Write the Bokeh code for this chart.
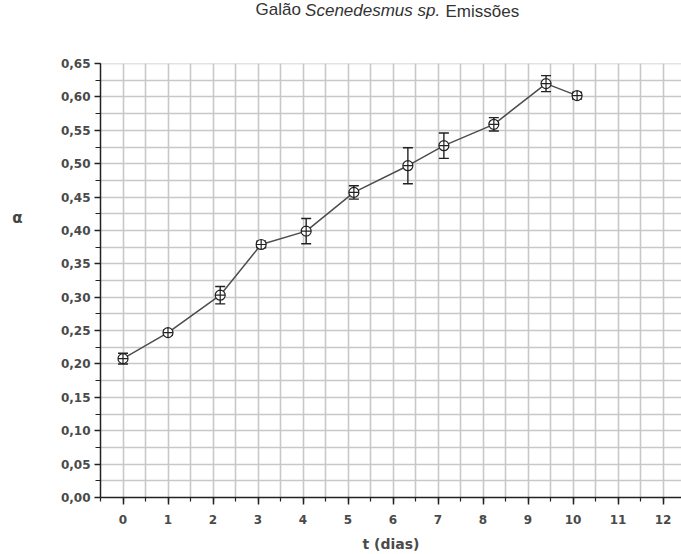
from bokeh.plotting import figure
from bokeh.models import (Range1d, SingleIntervalTicker, CustomJSTickFormatter,
                          Whisker, TeeHead, ColumnDataSource, Label)
from bokeh.embed import file_html
from bokeh.resources import INLINE

# ---- data ----
t_dias = [0.0, 1.0, 2.16, 3.07, 4.07, 5.13, 6.33, 7.13, 8.24, 9.40, 10.09]
alpha = [0.208, 0.247, 0.303, 0.379, 0.399, 0.457, 0.497, 0.527, 0.559, 0.620, 0.602]
alpha_err = [0.008, 0.004, 0.013, 0.005, 0.019, 0.010, 0.027, 0.019, 0.010, 0.012, 0.005]

title_parts = ["Galão", "Scenedesmus sp.", "Emissões"]
x_label = "t (dias)"
y_label = "α"

src = ColumnDataSource(dict(
    t=t_dias, a=alpha,
    lo=[a - e for a, e in zip(alpha, alpha_err)],
    hi=[a + e for a, e in zip(alpha, alpha_err)],
))

p = figure(width=681, height=554, output_backend="svg", toolbar_location=None,
           x_range=Range1d(-0.5, 12.41), y_range=Range1d(0, 0.6501),
           min_border_left=100, min_border_right=0, min_border_top=63,
           min_border_bottom=57, background_fill_color="white",
           border_fill_color="white")
p.outline_line_color = None

xt = SingleIntervalTicker(interval=1, num_minor_ticks=2)
yt = SingleIntervalTicker(interval=0.05, num_minor_ticks=2)
p.xaxis.ticker = xt
p.yaxis.ticker = yt
p.xgrid.ticker = xt
p.ygrid.ticker = yt

for g in (p.xgrid, p.ygrid):
    g.grid_line_color = None
    g.minor_grid_line_color = "#c8c8c8"
    g.minor_grid_line_width = 1.6

p.yaxis.formatter = CustomJSTickFormatter(code="return tick.toFixed(2).replace('.', ',')")

for ax in (p.xaxis, p.yaxis):
    ax.axis_line_color = "#222222"
    ax.axis_line_width = 1.5
    ax.major_tick_line_color = "#222222"
    ax.minor_tick_line_color = "#222222"
    ax.major_tick_line_width = 1.5
    ax.minor_tick_line_width = 1.2
    ax.major_tick_in = 0
    ax.minor_tick_in = 0
    ax.major_label_text_font = "DejaVu Sans"
    ax.major_label_text_font_size = "12px"
    ax.major_label_text_font_style = "bold"
    ax.major_label_text_color = "#4a4a4a"

p.xaxis.major_tick_out = 7
p.xaxis.minor_tick_out = 4
p.xaxis.major_label_standoff = 10
p.xaxis.axis_label = x_label
p.xaxis.axis_label_text_font = "DejaVu Sans"
p.xaxis.axis_label_text_font_size = "14px"
p.xaxis.axis_label_text_font_style = "bold"
p.xaxis.axis_label_text_color = "#4a4a4a"
p.xaxis.axis_label_standoff = 9

p.yaxis.major_tick_out = 6
p.yaxis.minor_tick_out = 5
p.yaxis.major_label_standoff = 4

# data line, error bars, markers
p.line("t", "a", source=src, line_color="#4d4d4d", line_width=1.5)
w = Whisker(base="t", lower="lo", upper="hi", source=src,
            line_color="#222222", line_width=1.4,
            upper_head=TeeHead(size=10, line_color="#222222", line_width=1.4),
            lower_head=TeeHead(size=10, line_color="#222222", line_width=1.4))
p.add_layout(w)
p.scatter("t", "a", source=src, marker="circle_cross", size=10,
          line_color="#222222", fill_color="white", line_width=1.2)

# title (mixed style) and y label, placed in the side panels
fs = "17px"
H = 20
ty = 54
p.add_layout(Label(x=200.4, y=ty, x_units="screen", y_units="screen", text=title_parts[0],
                   text_align="right", text_baseline="middle", text_font="Liberation Sans",
                   text_font_size=fs, text_color="#333333"), "above")
p.add_layout(Label(x=204.6, y=ty - H, x_units="screen", y_units="screen", text=title_parts[1],
                   text_align="left", text_baseline="middle", text_font="Liberation Sans",
                   text_font_style="italic", text_font_size=fs, text_color="#333333"), "above")
p.add_layout(Label(x=345, y=ty - 2 * H, x_units="screen", y_units="screen", text=title_parts[2],
                   text_align="left", text_baseline="middle", text_font="Liberation Sans",
                   text_font_size=fs, text_color="#333333"), "above")
p.add_layout(Label(x=-30, y=280, x_units="screen", y_units="screen", text=y_label,
                   text_align="center", text_baseline="middle", text_font="DejaVu Sans",
                   text_font_style="bold", text_font_size="15px", text_color="#444444"), "left")

open("out.html", "w").write(file_html(p, INLINE))
